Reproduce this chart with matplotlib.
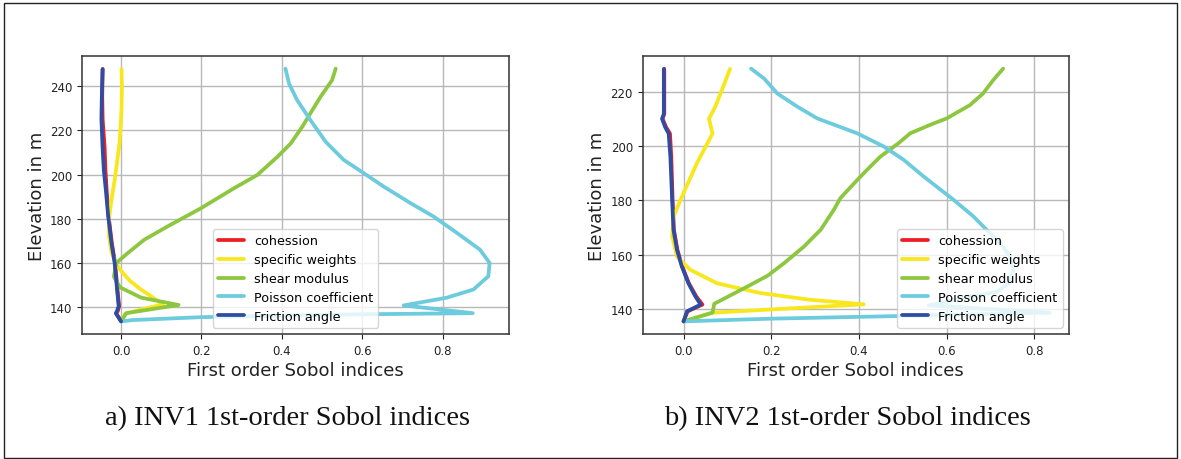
import matplotlib
matplotlib.use("Agg")
import matplotlib.pyplot as plt
from matplotlib.patches import Rectangle

# ---------------- data: INV1 ----------------
coh1_y = [247.6, 235, 225, 212, 202, 193, 181, 169, 160, 148, 140.5, 138.5, 137.3, 133.7]
coh1_x = [-0.046, -0.047, -0.046, -0.041, -0.039, -0.036, -0.031, -0.023, -0.015, -0.009, -0.005, -0.008, -0.012, 0.0]
fa1_y = [247.6, 235, 225, 212, 202, 193, 181, 169, 160, 148, 140.5, 138.5, 137.3, 133.7]
fa1_x = [-0.046, -0.048, -0.049, -0.046, -0.043, -0.038, -0.032, -0.024, -0.016, -0.010, -0.006, -0.010, -0.013, 0.0]
sw1_y = [247.6, 240, 230, 222, 214, 207, 200, 193, 186, 180, 172, 165, 160, 157.5, 155.4, 152, 148, 145, 141.3, 139.5, 137.2, 135, 133.7]
sw1_x = [0.001, 0.002, 0.001, -0.001, -0.004, -0.009, -0.014, -0.020, -0.026, -0.030, -0.030, -0.024, -0.013, -0.004, 0.005, 0.022, 0.050, 0.075, 0.104, 0.060, 0.010, 0.004, 0.0]
sm1_y = [247.8, 242.6, 235, 227.6, 221.6, 214, 208, 199.8, 193.8, 184.8, 176.6, 170.6, 164.6, 160.1, 153.9, 149.1, 144.4, 141.1, 137.4, 133.7]
sm1_x = [0.534, 0.525, 0.496, 0.471, 0.451, 0.422, 0.389, 0.339, 0.281, 0.199, 0.116, 0.058, 0.017, -0.012, -0.018, -0.003, 0.050, 0.143, 0.013, 0.0]
pc1_y = [247.8, 241, 233.6, 224.6, 214.8, 206.6, 200.6, 194.6, 187.1, 181.1, 173.6, 166.1, 160.1, 154.1, 148.1, 144.4, 140.9, 137.4, 136.8, 135.6, 134.3, 133.7]
pc1_x = [0.409, 0.418, 0.438, 0.471, 0.509, 0.554, 0.604, 0.653, 0.720, 0.777, 0.836, 0.893, 0.917, 0.914, 0.877, 0.811, 0.703, 0.875, 0.55, 0.20, 0.03, 0.0]

# ---------------- data: INV2 ----------------
coh2_y = [228.6, 220, 212, 210.2, 207.1, 204.7, 196, 180.1, 169.1, 161.7, 155.6, 149.4, 144.5, 141.5, 139, 135.3]
coh2_x = [-0.044, -0.044, -0.044, -0.048, -0.040, -0.031, -0.028, -0.025, -0.022, -0.014, -0.003, 0.012, 0.029, 0.043, 0.009, 0.0]
fa2_y = [228.6, 220, 212, 210.2, 207.1, 204.7, 196, 180.1, 169.1, 161.7, 155.6, 149.4, 144.5, 141.5, 139, 135.3]
fa2_x = [-0.045, -0.045, -0.045, -0.049, -0.042, -0.034, -0.030, -0.026, -0.023, -0.015, -0.004, 0.011, 0.027, 0.039, 0.008, 0.0]
sw2_y = [228.6, 220.6, 214.5, 210.2, 204.7, 193.6, 181.3, 174, 166.6, 159.3, 154.4, 149.4, 145.8, 143.3, 141.6, 138.5, 135.3]
sw2_x = [0.106, 0.087, 0.072, 0.058, 0.066, 0.030, -0.004, -0.023, -0.026, -0.015, 0.015, 0.076, 0.174, 0.287, 0.411, 0.065, 0.0]
sm2_y = [228.7, 224.4, 219.5, 215.2, 210.3, 207.9, 204.8, 201.1, 196.2, 192.5, 188.2, 180.9, 176.6, 169.2, 163, 156.9, 152.2, 148.3, 141.8, 138.5, 135.3]
sm2_x = [0.729, 0.706, 0.683, 0.653, 0.600, 0.562, 0.517, 0.490, 0.449, 0.426, 0.400, 0.358, 0.343, 0.313, 0.275, 0.230, 0.192, 0.147, 0.070, 0.066, 0.0]
pc2_y = [228.7, 225, 219.5, 214.6, 210.3, 204.8, 199.9, 195, 188.8, 180.2, 174.1, 169.2, 164.3, 159.4, 154.5, 149.6, 146.3, 141.2, 138.5, 137.3, 136.3, 135.3]
pc2_x = [0.154, 0.184, 0.214, 0.260, 0.305, 0.396, 0.457, 0.502, 0.548, 0.616, 0.661, 0.691, 0.722, 0.744, 0.752, 0.744, 0.715, 0.559, 0.835, 0.50, 0.20, 0.0]

labels = ["cohession", "specific weights", "shear modulus", "Poisson coefficient", "Friction angle"]
colors = ["#ee1c25", "#f8e71c", "#8dc63f", "#6ccbdc", "#2f4ca3"]
captions = ["a) INV1 1st-order Sobol indices", "b) INV2 1st-order Sobol indices"]
xticks = [0.0, 0.2, 0.4, 0.6, 0.8]
yticks1 = [140, 160, 180, 200, 220, 240]
yticks2 = [140, 160, 180, 200, 220]

series1 = [(coh1_x, coh1_y), (sw1_x, sw1_y), (sm1_x, sm1_y), (pc1_x, pc1_y), (fa1_x, fa1_y)]
series2 = [(coh2_x, coh2_y), (sw2_x, sw2_y), (sm2_x, sm2_y), (pc2_x, pc2_y), (fa2_x, fa2_y)]

fig = plt.figure(figsize=(11.81, 4.60), dpi=100)
fig.patches.append(Rectangle((4 / 1181, 1 - 459 / 460), 1173 / 1181, 455 / 460,
                             transform=fig.transFigure, fill=False,
                             edgecolor="#222222", linewidth=1.0))

ax1 = fig.add_axes([82 / 1181, 1 - 335 / 460, 427 / 1181, 278 / 460])
ax2 = fig.add_axes([642.7 / 1181, 1 - 335 / 460, 426.3 / 1181, 278 / 460])

for ax, series, yt, loc, cap, cx in [
    (ax1, series1, yticks1, "lower center", captions[0], 287.4 / 1181),
    (ax2, series2, yticks2, "lower right", captions[1], 847.5 / 1181),
]:
    for (xs, ys), lab, col in zip(series, labels, colors):
        ax.plot(xs, ys, color=col, lw=2.7, label=lab, solid_capstyle="round")
    ax.grid(True, color="#b8b8b8", lw=1.0)
    ax.set_axisbelow(True)
    ax.set_xticks(xticks)
    ax.set_yticks(yt)
    ax.tick_params(labelsize=8.5, colors="#222222", length=3.5)
    for sp in ax.spines.values():
        sp.set_color("#333333")
        sp.set_linewidth(1.1)
    ax.set_xlabel("First order Sobol indices", fontsize=13, color="#222222", labelpad=3)
    ax.set_ylabel("Elevation in m", fontsize=13, color="#222222", labelpad=3)
    ax.legend(loc=loc, fontsize=9.2, handlelength=2.0, labelspacing=0.45,
              borderpad=0.4, framealpha=0.8, edgecolor="#cccccc")
    fig.text(cx, 1 - 425 / 460, cap, ha="center", va="baseline",
             family="Liberation Serif", fontsize=20.5, color="#111111")

fig.savefig("out.png", dpi=100)
